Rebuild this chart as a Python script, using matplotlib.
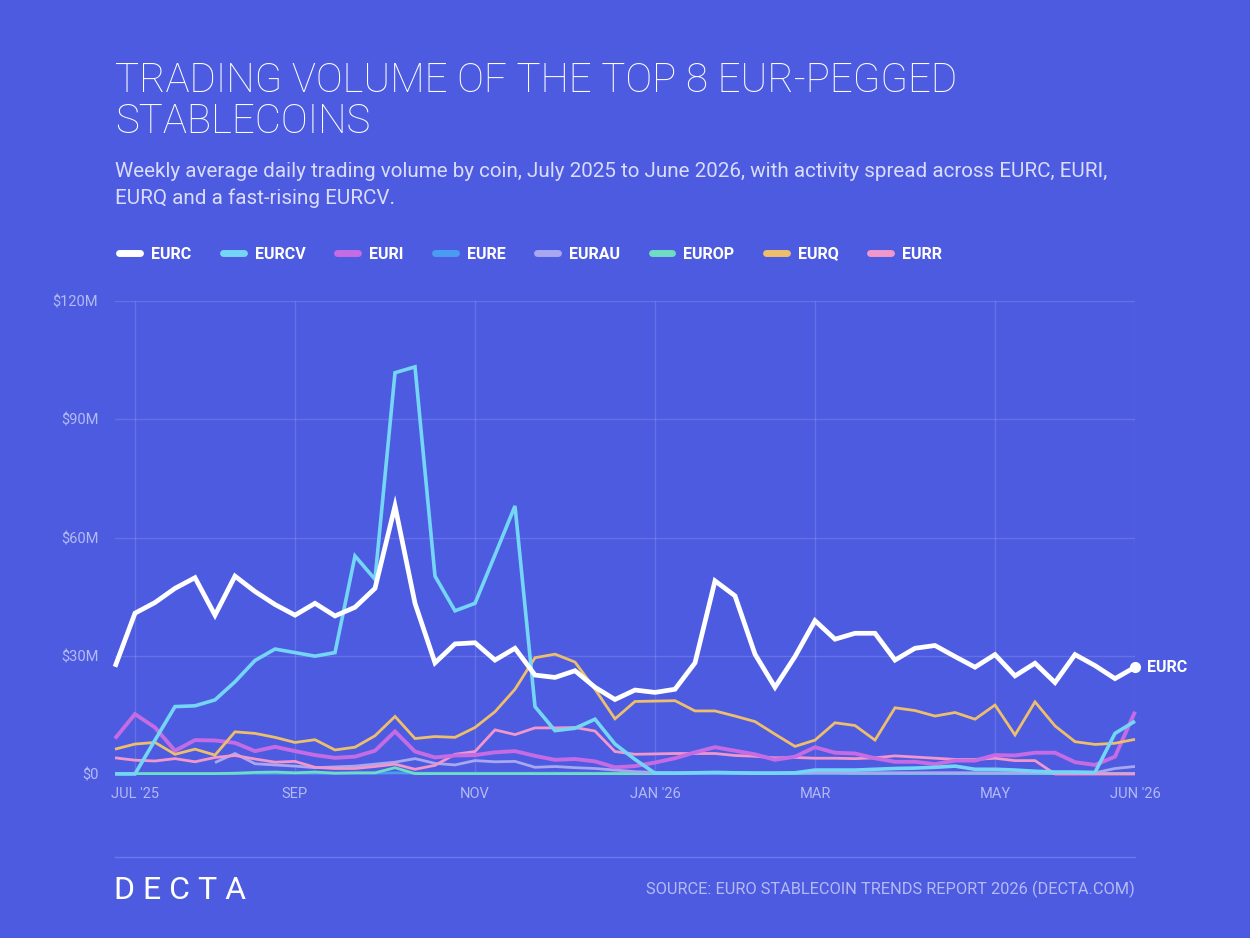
import numpy as np
import matplotlib
matplotlib.use("Agg")
import matplotlib.pyplot as plt
from matplotlib.lines import Line2D

nan = np.nan

# ---------------- data (USD millions, weekly) ----------------
tick_labels = ["JUL '25", "SEP", "NOV", "JAN '26", "MAR", "MAY", "JUN '26"]
tick_weeks = [1, 9, 18, 27, 35, 44, 51]
y_ticks = [0, 30, 60, 90, 120]
y_tick_labels = ["$0", "$30M", "$60M", "$90M", "$120M"]

coins = ["EURC", "EURCV", "EURI", "EURE", "EURAU", "EUROP", "EURQ", "EURR"]

eurc = [27.2, 40.8, 43.5, 47.1, 49.8, 40.3, 50.2, 46.3, 43.0, 40.3,
        43.3, 40.1, 42.3, 47.1, 68.0, 43.3, 28.2, 33.0, 33.3, 28.9,
        31.9, 25.1, 24.5, 26.2, 22.0, 18.9, 21.3, 20.7, 21.5, 28.2,
        49.0, 45.2, 30.4, 22.0, 29.8, 38.9, 34.2, 35.7, 35.7, 28.9,
        31.9, 32.6, 29.8, 27.1, 30.3, 24.9, 28.1, 23.2, 30.3, 27.5,
        24.2, 27.1]
eurcv = [0, 0, 8.6, 17.1, 17.3, 18.8, 23.4, 28.8, 31.7, 30.8,
         29.9, 30.8, 55.3, 49.4, 101.8, 103.3, 50.2, 41.4, 43.3, 55.6,
         68.0, 17.1, 11.0, 11.6, 13.9, 7.6, 3.7, 0.2, 0.2, 0.3,
         0.4, 0.3, 0.2, 0.2, 0.3, 1.0, 1.0, 1.0, 1.2, 1.4,
         1.5, 1.7, 2.0, 1.2, 1.2, 1.0, 0.7, 0.5, 0.5, 0.4,
         10.3, 13.4]
euri = [9.0, 15.2, 11.8, 5.9, 8.6, 8.5, 7.9, 5.8, 6.9, 5.8,
        4.8, 4.1, 4.4, 5.9, 10.8, 5.7, 4.2, 4.7, 4.8, 5.5,
        5.8, 4.6, 3.6, 3.8, 3.2, 1.7, 2.0, 2.9, 4.0, 5.5,
        6.8, 5.9, 5.0, 3.6, 4.4, 6.8, 5.4, 5.2, 4.0, 3.1,
        3.1, 2.5, 3.4, 3.4, 4.8, 4.7, 5.4, 5.4, 3.0, 2.3,
        4.4, 15.8]
eure = [0.1, 0.1, 0.1, 0.1, 0.1, 0.1, 0.1, 0.2, 0.2, 0.2,
        0.2, 0.2, 0.2, 0.2, 0.3, 0.2, 0.2, 0.2, 0.2, 0.2,
        0.2, 0.2, 0.2, 0.2, 0.2, 0.2, 0.1, 0.1, 0.1, 0.1,
        0.1, 0.1, 0.1, 0.1, 0.1, 0.1, 0.1, 0.1, 0.1, 0.1,
        0.1, 0.1, 0.1, 0.1, 0.1, 0.1, 0.1, 0.1, 0.1, 0.1,
        0.1, 0.1]
eurau = [nan, nan, nan, nan, nan, 2.9, 5.2, 2.6, 2.3, 2.0,
         1.6, 1.8, 2.0, 2.5, 3.0, 3.9, 2.7, 2.3, 3.4, 3.1,
         3.2, 1.7, 1.9, 1.6, 1.4, 1.0, 0.6, 0.4, 0.3, 0.3,
         0.3, 0.3, 0.3, 0.3, 0.3, 0.3, 0.3, 0.3, 0.3, 0.3,
         0.3, 0.3, 0.3, 0.3, 0.3, 0.3, 0.3, 0.3, 0.3, 0.3,
         1.4, 1.9]
europ = [0.1, 0.1, 0.1, 0.1, 0.1, 0.1, 0.2, 0.4, 0.5, 0.3,
         0.5, 0.2, 0.3, 0.3, 1.6, 0.1, 0.1, 0.1, 0.1, 0.1,
         0.1, 0.1, 0.1, 0.1, 0.1, 0.1, 0.1, 0.1, 0.2, 0.3,
         0.4, 0.3, 0.2, 0.2, 0.2, 0.3, 0.3, 0.2, 0.2, 0.2,
         0.2, 0.2, 0.2, 0.2, 0.2, 0.2, 0.2, 0.1, 0.1, 0.1,
         0.1, 0.1]
eurq = [6.3, 7.6, 8.0, 5.0, 6.3, 4.8, 10.7, 10.3, 9.3, 8.0,
        8.7, 6.1, 6.8, 9.7, 14.6, 9.0, 9.5, 9.3, 11.8, 15.8,
        21.5, 29.5, 30.4, 28.4, 21.5, 14.0, 18.4, 18.5, 18.6, 16.0,
        16.0, 14.7, 13.3, 10.1, 7.0, 8.6, 13.0, 12.3, 8.6, 16.8,
        16.1, 14.7, 15.6, 13.9, 17.5, 9.9, 18.3, 12.2, 8.2, 7.5,
        7.8, 8.8]
eurr = [4.1, 3.5, 3.3, 3.9, 3.1, 4.2, 4.7, 3.8, 3.0, 3.2,
        1.7, 1.4, 1.4, 1.9, 2.5, 1.2, 2.2, 5.0, 5.7, 11.2,
        10.0, 11.7, 11.7, 11.8, 10.9, 5.7, 5.0, 5.1, 5.2, 5.2,
        5.2, 4.7, 4.5, 4.1, 4.2, 4.0, 4.0, 3.9, 4.1, 4.6,
        4.3, 4.0, 3.7, 3.7, 4.0, 3.4, 3.4, 0, 0, 0,
        0, 0]

series = {"EURC": eurc, "EURCV": eurcv, "EURI": euri, "EURE": eure,
          "EURAU": eurau, "EUROP": europ, "EURQ": eurq, "EURR": eurr}

# ---------------- styles ----------------
BG = "#4D5BE1"
colors = {"EURC": "#FFFFFF", "EURCV": "#74D6F4", "EURI": "#C56BE3",
          "EURE": "#4A9CF2", "EURAU": "#A9A7F0", "EUROP": "#6EDDC3",
          "EURQ": "#EDBE6C", "EURR": "#F197CB"}
widths = {"EURC": 3.4, "EURCV": 2.6, "EURI": 2.8, "EURE": 2.0,
          "EURAU": 2.0, "EUROP": 2.0, "EURQ": 2.0, "EURR": 2.0}
draw_order = ["EURE", "EUROP", "EURAU", "EURR", "EURI", "EURQ", "EURCV", "EURC"]

FONT = "Roboto"
MUTED = "#B4BAF3"
plt.rcParams["font.family"] = [FONT, "DejaVu Sans"]

W, H = 1250, 938
fig = plt.figure(figsize=(W / 100, H / 100), dpi=100, facecolor=BG)

left, right, top, bottom = 115, 1135, 301, 774
ax = fig.add_axes([left / W, 1 - bottom / H, (right - left) / W, (bottom - top) / H])
ax.set_facecolor(BG)

x = np.arange(len(eurc))
for name in draw_order:
    ax.plot(x, series[name], color=colors[name], lw=widths[name],
            solid_joinstyle="miter", solid_capstyle="butt", clip_on=False,
            zorder=3)

# end point + label for EURC
ax.plot([x[-1]], [eurc[-1]], "o", color="white", ms=7, clip_on=False, zorder=4)
ax.annotate("EURC", (x[-1], eurc[-1]), xytext=(9, 0), textcoords="offset points",
            color="white", fontsize=11.5, fontweight="bold", va="center", ha="left",
            annotation_clip=False)

ax.set_xlim(0, len(eurc) - 1)
ax.set_ylim(0, 120)
ax.set_yticks(y_ticks)
ax.set_yticklabels(y_tick_labels)
ax.set_xticks(tick_weeks)
ax.set_xticklabels(tick_labels)
ax.tick_params(axis="both", length=0, colors=MUTED, labelsize=10.5)
ax.tick_params(axis="y", pad=12)
ax.tick_params(axis="x", pad=9)
for s in ax.spines.values():
    s.set_visible(False)
ax.grid(True, color="white", alpha=0.13, lw=1)
ax.set_axisbelow(True)

# ---------------- titles ----------------
fig.text(left / W, 1 - 61 / H, "TRADING VOLUME OF THE TOP 8 EUR-PEGGED\nSTABLECOINS",
         color="white", fontsize=29.0, fontweight="light", va="top", ha="left",
         linespacing=1.09)
fig.text(left / W, 1 - 162 / H,
         "Weekly average daily trading volume by coin, July 2025 to June 2026, with activity spread across EURC, EURI,\nEURQ and a fast-rising EURCV.",
         color="#D9DCFA", fontsize=14.9, va="top", ha="left", linespacing=1.48)

# ---------------- legend ----------------
handles = [Line2D([0], [0], color=colors[c], lw=5, solid_capstyle="round") for c in coins]
leg = fig.legend(handles, coins, loc="center left", bbox_to_anchor=(left / W - 0.008, 1 - 254 / H),
                 ncol=8, frameon=False, handlelength=1.3, handletextpad=0.7,
                 columnspacing=1.97, prop={"family": FONT, "weight": "bold", "size": 11.5})
for t in leg.get_texts():
    t.set_color("white")

# ---------------- footer ----------------
fig.add_artist(Line2D([left / W, right / W], [1 - 857 / H, 1 - 857 / H],
                      color="white", alpha=0.18, lw=1))
fig.text(left / W - 0.001, 1 - 890 / H, "D E C T A", color="white", fontsize=23,
         fontweight="normal", va="center", ha="left")
fig.text(right / W, 1 - 889 / H,
         "SOURCE: EURO STABLECOIN TRENDS REPORT 2026 (DECTA.COM)",
         color=MUTED, fontsize=11.8, va="center", ha="right")

fig.savefig("out.png", dpi=100, facecolor=BG)
